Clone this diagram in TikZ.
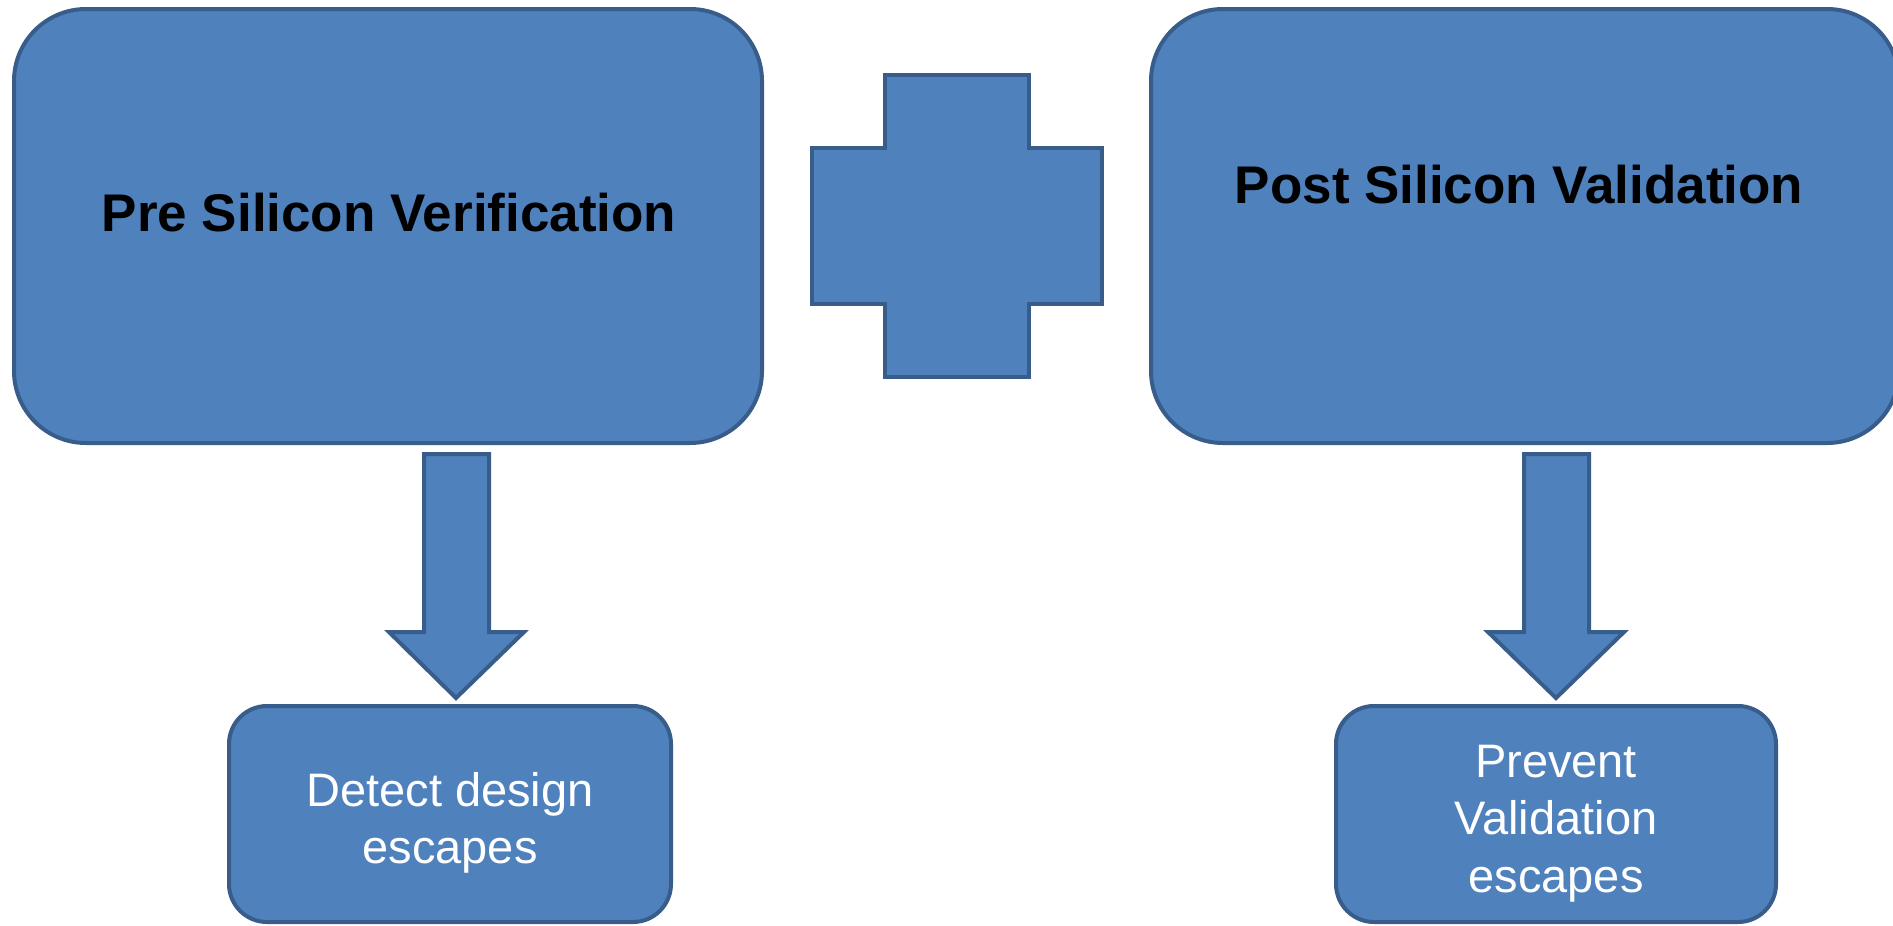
\documentclass[tikz,border=0pt]{standalone}
\usepackage{fontspec}
\setmainfont{Liberation Sans}
\definecolor{boxfill}{HTML}{4F81BD}
\definecolor{boxline}{HTML}{385D8A}
\begin{document}
\begin{tikzpicture}[x=1pt,y=-1pt,
  shapestyle/.style={fill=boxfill,draw=boxline,line width=4pt,line join=miter},
  bigbox/.style={shapestyle,rectangle,rounded corners=72pt,minimum width=748pt,minimum height=434pt,inner sep=0pt},
  smallbox/.style={shapestyle,rectangle,rounded corners=38pt,minimum height=216pt,inner sep=0pt},
  titletext/.style={font=\bfseries\fontsize{53}{60}\selectfont,text=black,inner sep=0pt,anchor=base},
  boxtext/.style={font=\fontsize{47}{57}\selectfont,text=white,inner sep=0pt,anchor=base}]
\useasboundingbox (0,0) rectangle (1893,926);
\clip (0,0) rectangle (1893,926);
\fill[white] (0,0) rectangle (1893,926);

% big boxes
\node[bigbox] (pre) at (388,226) {};
\node[bigbox] (post) at (1525,226) {};
\node[titletext] (pretext) at (389,231) {Pre Silicon Verification};
\node[titletext] (posttext) at (1519,203) {Post Silicon Validation};

% plus sign
\draw[shapestyle] (885,75) -- (1029,75) -- (1029,148) -- (1102,148) -- (1102,304)
  -- (1029,304) -- (1029,377) -- (885,377) -- (885,304) -- (812,304) -- (812,148)
  -- (885,148) -- cycle;

% small boxes
\node[smallbox,minimum width=442pt] (detect) at (450,814) {};
\node[smallbox,minimum width=440pt] (prevent) at (1556,814) {};
\node[boxtext] (d1) at (450,806) {Detect design};
\node[boxtext] (d2) at (450,863) {escapes};
\node[boxtext] (p1) at (1556,777) {Prevent};
\node[boxtext] (p2) at (1556,834) {Validation};
\node[boxtext] (p3) at (1556,892) {escapes};

% block arrows
\draw[shapestyle] (424,454) -- (489,454) -- (489,632) -- (524,632) -- (456,698)
  -- (389,632) -- (424,632) -- cycle;
\draw[shapestyle] (1524,454) -- (1589,454) -- (1589,632) -- (1624,632) -- (1556,698)
  -- (1488,632) -- (1524,632) -- cycle;
\end{tikzpicture}
\end{document}
